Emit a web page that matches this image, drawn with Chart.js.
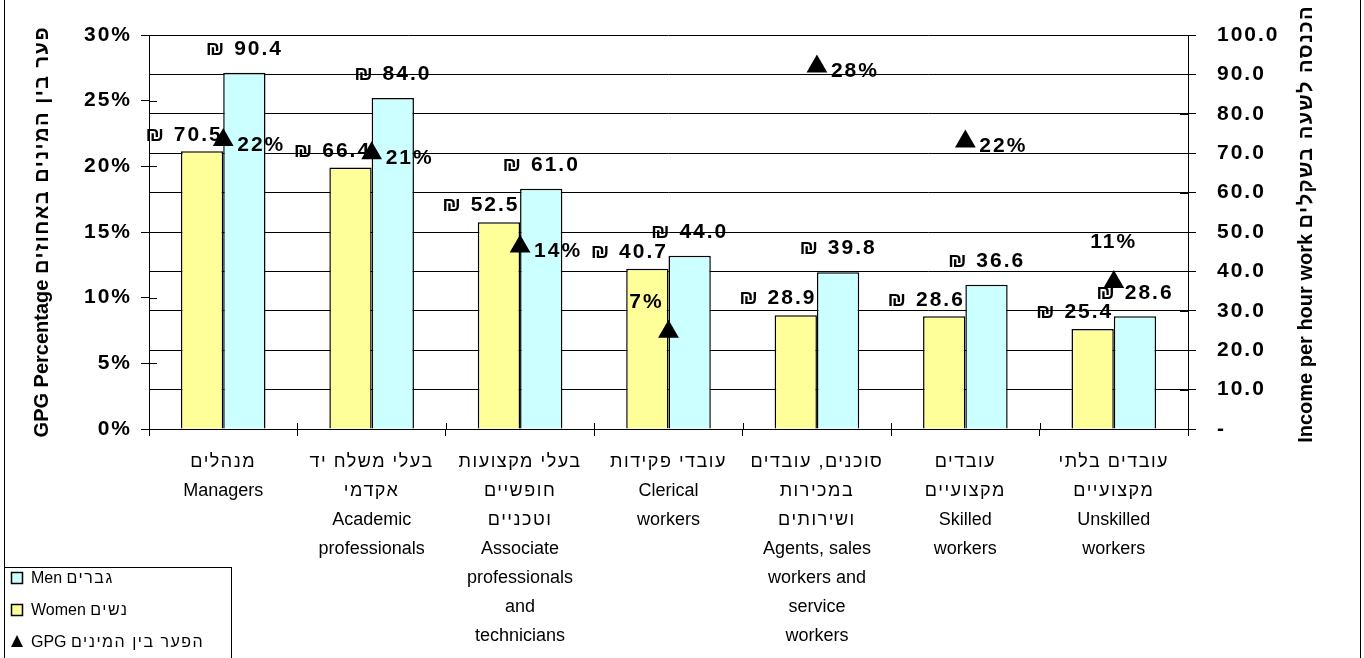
<!DOCTYPE html>
<html>
<head>
<meta charset="utf-8">
<script src="https://cdn.jsdelivr.net/npm/chart.js@4.4.1/dist/chart.umd.min.js"></script>
<style>
  body { margin: 0; background: #fff; }
  canvas { display: block; }
</style>
</head>
<body>
<canvas id="myChart" width="1364" height="658"></canvas>
<script>
const categories = [
  ['מנהלים', 'Managers'],
  ['בעלי משלח יד', 'אקדמי', 'Academic', 'professionals'],
  ['בעלי מקצועות', 'חופשיים', 'וטכניים', 'Associate', 'professionals', 'and', 'technicians'],
  ['עובדי פקידות', 'Clerical', 'workers'],
  ['סוכנים, עובדים', 'במכירות', 'ושירותים', 'Agents, sales', 'workers and', 'service', 'workers'],
  ['עובדים', 'מקצועיים', 'Skilled', 'workers'],
  ['עובדים בלתי', 'מקצועיים', 'Unskilled', 'workers']
];
const women = [70.5, 66.4, 52.5, 40.7, 28.9, 28.6, 25.4];
const men = [90.4, 84.0, 61.0, 44.0, 39.8, 36.6, 28.6];
const gpg = [22.0, 21.0, 13.9, 7.4, 27.6, 21.9, 11.2];
const gpgLabelPlace = ['right', 'right', 'right', 'above', 'right', 'right', 'above'];

const FONT = 'Arial, "Liberation Sans", sans-serif';
const BOLD = 'bold 21px ' + FONT;
const isHebrew = s => /[\u0590-\u05FF]/.test(s);

function measure(ctx, run) {
  ctx.font = run.font;
  ctx.letterSpacing = (run.spacing || 0) + 'px';
  return ctx.measureText(run.text).width;
}

// draws runs one after another, left to right
function drawRuns(ctx, runs, x0, y) {
  let x = x0;
  runs.forEach(run => {
    const w = measure(ctx, run);
    ctx.textAlign = 'left';
    ctx.fillText(run.text, x, y);
    x += w;
  });
  return x - x0;
}

function runsWidth(ctx, runs) {
  return runs.reduce((s, r) => s + measure(ctx, r), 0);
}

const leftTitle = [
  { text: 'GPG Percentage ', font: 'bold 20px ' + FONT },
  { text: 'פער בין המינים באחוזים', font: 'bold 20px ' + FONT, spacing: 1.5 }
];
const rightTitle = [
  { text: 'Income per hour work ', font: 'bold 20px ' + FONT },
  { text: 'הכנסה לשעה בשקלים', font: 'bold 20px ' + FONT, spacing: 1.5 }
];

const LEG = '16px ' + FONT;
const legendItems = [
  { runs: [{ text: 'Men ', font: LEG }, { text: 'גברים', font: LEG, spacing: 1.5 }], fill: '#CCFFFF', shape: 'box' },
  { runs: [{ text: 'Women ', font: LEG }, { text: 'נשים', font: LEG, spacing: 1.5 }], fill: '#FFFF99', shape: 'box' },
  { runs: [{ text: 'GPG ', font: LEG }, { text: 'הפער בין המינים', font: LEG, spacing: 1.5 }], fill: '#000', shape: 'tri' }
];

const decorPlugin = {
  id: 'decor',
  beforeDraw(chart) {
    // wide spacing of the bold tick labels
    chart.ctx.letterSpacing = '2px';
  },
  afterDatasetsDraw(chart) {
    const ctx = chart.ctx;
    ctx.save();
    ctx.fillStyle = '#000';
    ctx.font = BOLD;
    ctx.letterSpacing = '2px';
    ctx.textBaseline = 'bottom';
    ctx.textAlign = 'center';

    chart.getDatasetMeta(0).data.forEach((bar, i) => {
      ctx.fillText('₪ ' + women[i].toFixed(1), bar.x - 18, bar.y - 6);
    });
    chart.getDatasetMeta(1).data.forEach((bar, i) => {
      ctx.fillText('₪ ' + men[i].toFixed(1), bar.x, bar.y - 13);
    });

    ctx.textBaseline = 'middle';
    chart.getDatasetMeta(2).data.forEach((pt, i) => {
      const txt = Math.round(gpg[i]) + '%';
      if (gpgLabelPlace[i] === 'above') {
        ctx.textAlign = 'center';
        ctx.fillText(txt, pt.x - (i === 3 ? 22 : 0), pt.y - (i === 3 ? 30 : 40));
      } else {
        ctx.textAlign = 'left';
        ctx.fillText(txt, pt.x + 14, pt.y + 5);
      }
    });
    ctx.restore();
  },
  afterDraw(chart) {
    const ctx = chart.ctx;
    const area = chart.chartArea;
    ctx.save();
    ctx.letterSpacing = '0px';

    // tick stubs inside the plot, as in the original
    ctx.strokeStyle = '#000';
    ctx.lineWidth = 1;
    ctx.beginPath();
    chart.scales.yPct.ticks.forEach(t => {
      const y = Math.round(chart.scales.yPct.getPixelForValue(t.value)) + 0.5;
      ctx.moveTo(area.left, y);
      ctx.lineTo(area.left + 8, y);
    });
    chart.scales.yInc.ticks.forEach(t => {
      const y = Math.round(chart.scales.yInc.getPixelForValue(t.value)) + 0.5;
      ctx.moveTo(area.right - 8, y);
      ctx.lineTo(area.right, y);
    });
    for (let i = 1; i < categories.length; i++) {
      const x = Math.round(area.left + i * (area.right - area.left) / categories.length) + 0.5;
      ctx.moveTo(x, area.bottom - 6);
      ctx.lineTo(x, area.bottom);
    }
    ctx.stroke();

    ctx.fillStyle = '#000';
    ctx.textBaseline = 'middle';

    // category labels
    const xs = chart.scales.x;
    categories.forEach((lines, i) => {
      const cx = xs.getPixelForValue(i);
      lines.forEach((line, j) => {
        const runs = [{ text: line, font: '18px ' + FONT, spacing: isHebrew(line) ? 1.5 : 0 }];
        const w = runsWidth(ctx, runs);
        drawRuns(ctx, runs, cx - w / 2, area.bottom + 33 + j * 29);
      });
    });

    // axis titles, both read bottom to top
    [[leftTitle, 42, 26], [rightTitle, 1306, 5]].forEach(([runs, cx, top]) => {
      const w = runsWidth(ctx, runs);
      ctx.save();
      ctx.translate(cx, top + w);
      ctx.rotate(-Math.PI / 2);
      drawRuns(ctx, runs, 0, 0);
      ctx.restore();
    });

    // outer frame (sides only)
    ctx.beginPath();
    ctx.moveTo(4.5, 0);
    ctx.lineTo(4.5, 658);
    ctx.moveTo(1360.5, 0);
    ctx.lineTo(1360.5, 658);
    ctx.stroke();

    // legend box
    ctx.fillStyle = '#fff';
    ctx.fillRect(5, 568, 226, 95);
    ctx.strokeRect(4.5, 567.5, 227, 100);
    legendItems.forEach((it, i) => {
      const cy = 578 + i * 32;
      if (it.shape === 'box') {
        ctx.fillStyle = it.fill;
        ctx.fillRect(11.5, cy - 5.5, 11, 11);
        ctx.lineWidth = 1.5;
        ctx.strokeRect(11.5, cy - 5.5, 11, 11);
        ctx.lineWidth = 1;
      } else {
        ctx.fillStyle = '#000';
        ctx.beginPath();
        ctx.moveTo(17, cy - 7);
        ctx.lineTo(23, cy + 5);
        ctx.lineTo(11, cy + 5);
        ctx.closePath();
        ctx.fill();
      }
      ctx.fillStyle = '#000';
      drawRuns(ctx, it.runs, 31, cy + 1);
    });
    ctx.restore();
  }
};

const config = {
  type: 'bar',
  data: {
    labels: categories.map(lines => lines.join(' ')),
    datasets: [
      {
        label: 'Women נשים',
        data: women,
        yAxisID: 'yInc',
        backgroundColor: '#FFFF99',
        borderColor: '#000',
        borderWidth: 1.5,
        categoryPercentage: 0.57,
        barPercentage: 1.0,
        order: 2
      },
      {
        label: 'Men גברים',
        data: men,
        yAxisID: 'yInc',
        backgroundColor: '#CCFFFF',
        borderColor: '#000',
        borderWidth: 1.5,
        categoryPercentage: 0.57,
        barPercentage: 1.0,
        order: 2
      },
      {
        type: 'line',
        label: 'GPG הפער בין המינים',
        data: gpg,
        yAxisID: 'yPct',
        showLine: false,
        pointStyle: 'triangle',
        pointRadius: 12,
        pointBackgroundColor: '#000',
        pointBorderColor: '#000',
        pointBorderWidth: 0,
        order: 0
      }
    ]
  },
  plugins: [decorPlugin],
  options: {
    responsive: false,
    animation: false,
    layout: { padding: { top: 35, left: 0, right: 0, bottom: 0 } },
    plugins: {
      legend: { display: false },
      tooltip: { enabled: false }
    },
    scales: {
      x: {
        grid: { drawOnChartArea: false, tickLength: 7, color: '#000', offset: true },
        border: { color: '#000', width: 1 },
        ticks: { display: false },
        afterFit(scale) { scale.height = 658 - 35 - 394; }
      },
      yPct: {
        position: 'left',
        min: 0,
        max: 30,
        ticks: {
          stepSize: 5,
          color: '#000',
          padding: 9,
          font: { family: FONT, size: 21, weight: 'bold' },
          callback: v => v + '%'
        },
        grid: { drawOnChartArea: false, tickLength: 8, color: '#000' },
        border: { color: '#000', width: 1 },
        afterFit(scale) { scale.width = 149; }
      },
      yInc: {
        position: 'right',
        min: 0,
        max: 100,
        ticks: {
          stepSize: 10,
          color: '#000',
          padding: 21,
          font: { family: FONT, size: 21, weight: 'bold' },
          callback: v => v === 0 ? '-' : v.toFixed(1)
        },
        grid: { drawOnChartArea: true, tickLength: 8, color: '#000', lineWidth: 1 },
        border: { color: '#000', width: 1 },
        afterFit(scale) { scale.width = 1364 - 1188; }
      }
    }
  }
};

new Chart(document.getElementById('myChart'), config);
</script>
</body>
</html>
